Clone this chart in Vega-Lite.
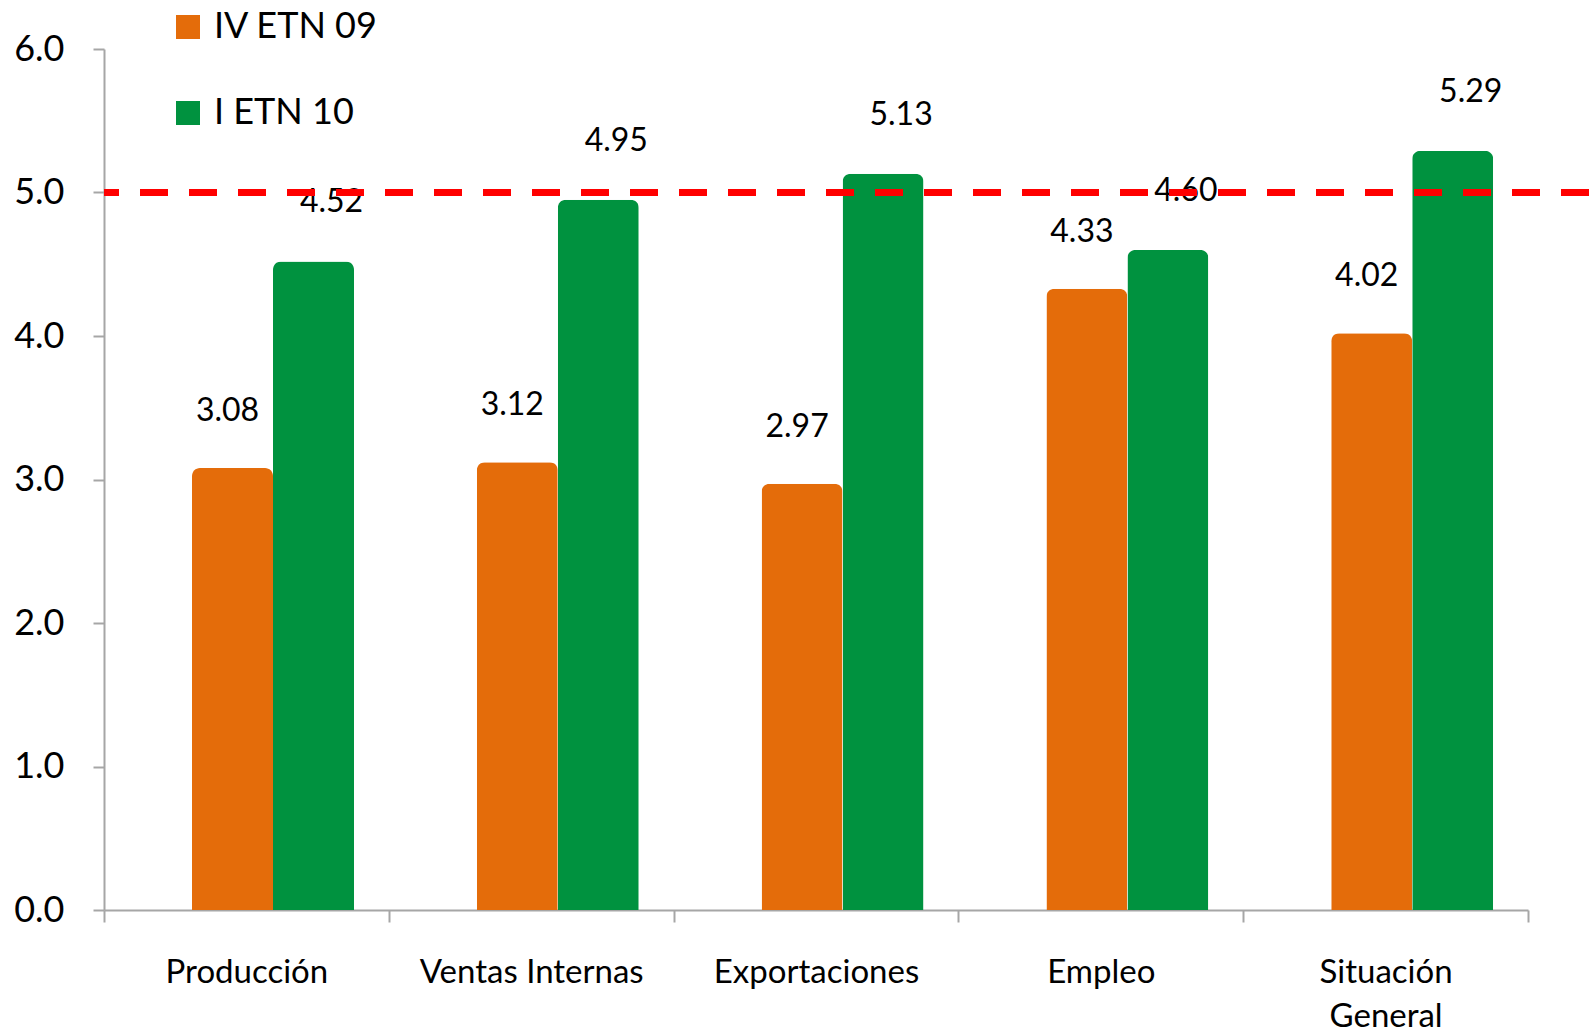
{
  "$schema": "https://vega.github.io/schema/vega-lite/v6.json",
  "width": 1485,
  "height": 861,
  "autosize": {"type": "none"},
  "padding": {"left": 104, "top": 49, "right": 0, "bottom": 122},
  "background": "white",
  "config": {
    "view": {"stroke": null},
    "font": "Lato",
    "axis": {"labelFont": "Lato", "labelColor": "black", "domainColor": "#A6A6A6", "tickColor": "#A6A6A6", "domainWidth": 2, "tickWidth": 2, "grid": false, "title": null}
  },
  "data": {
    "values": [
      {"categoria": "Producción", "serie": "IV ETN 09", "valor": 3.08},
      {"categoria": "Producción", "serie": "I ETN 10", "valor": 4.52},
      {"categoria": "Ventas Internas", "serie": "IV ETN 09", "valor": 3.12},
      {"categoria": "Ventas Internas", "serie": "I ETN 10", "valor": 4.95},
      {"categoria": "Exportaciones", "serie": "IV ETN 09", "valor": 2.97},
      {"categoria": "Exportaciones", "serie": "I ETN 10", "valor": 5.13},
      {"categoria": "Empleo", "serie": "IV ETN 09", "valor": 4.33},
      {"categoria": "Empleo", "serie": "I ETN 10", "valor": 4.60},
      {"categoria": "Situación General", "serie": "IV ETN 09", "valor": 4.02},
      {"categoria": "Situación General", "serie": "I ETN 10", "valor": 5.29}
    ]
  },
  "encoding": {
    "x": {
      "field": "categoria",
      "type": "nominal",
      "sort": null,
      "scale": {"range": [0, 1424], "paddingInner": 0, "paddingOuter": 0},
      "axis": {
        "labelAngle": 0,
        "labelFontSize": 33,
        "labelLimit": 0,
        "tickBand": "extent",
        "tickSize": 12,
        "labelPadding": 34,
        "labelExpr": "datum.label == 'Situación General' ? ['Situación', 'General'] : datum.label",
        "labelLineHeight": 44
      }
    },
    "xOffset": {
      "field": "serie",
      "type": "nominal",
      "sort": ["IV ETN 09", "I ETN 10"],
      "scale": {"range": [88, 250], "paddingInner": 0, "paddingOuter": 0}
    },
    "y": {
      "field": "valor",
      "type": "quantitative",
      "scale": {"domain": [0, 6], "nice": false},
      "axis": {"values": [0, 1, 2, 3, 4, 5, 6], "format": ".1f", "labelFontSize": 36, "tickSize": 11, "labelPadding": 29}
    }
  },
  "layer": [
    {
      "mark": {"type": "bar", "cornerRadiusTopLeft": 8, "cornerRadiusTopRight": 8},
      "encoding": {
        "color": {
          "field": "serie",
          "type": "nominal",
          "sort": ["IV ETN 09", "I ETN 10"],
          "scale": {"domain": ["IV ETN 09", "I ETN 10"], "range": ["#E46C0A", "#00923F"]},
          "legend": {
            "title": null,
            "orient": "none",
            "legendX": 66,
            "legendY": -40,
            "direction": "vertical",
            "symbolType": "square",
            "symbolSize": 576,
            "symbolStrokeWidth": 0,
            "symbolOpacity": 1,
            "labelFontSize": 36,
            "labelFont": "Lato",
            "labelColor": "black",
            "labelLimit": 0,
            "rowPadding": 50,
            "labelOffset": 8
          }
        }
      }
    },
    {
      "transform": [{"filter": "datum.serie == 'IV ETN 09'"}],
      "mark": {"type": "text", "baseline": "bottom", "dy": -40, "dx": -5, "fontSize": 32, "font": "Lato", "color": "black"},
      "encoding": {"text": {"field": "valor", "type": "quantitative", "format": ".2f"}}
    },
    {
      "transform": [{"filter": "datum.serie == 'I ETN 10'"}],
      "mark": {"type": "text", "baseline": "bottom", "dy": -42, "dx": 18, "fontSize": 32, "font": "Lato", "color": "black"},
      "encoding": {"text": {"field": "valor", "type": "quantitative", "format": ".2f"}}
    },
    {
      "data": {"values": [{"ref": 5.0}]},
      "mark": {"type": "rule", "color": "#FF0000", "strokeWidth": 7, "strokeDash": [28, 21]},
      "encoding": {"y": {"field": "ref", "type": "quantitative"}, "x": null, "xOffset": null}
    }
  ]
}
